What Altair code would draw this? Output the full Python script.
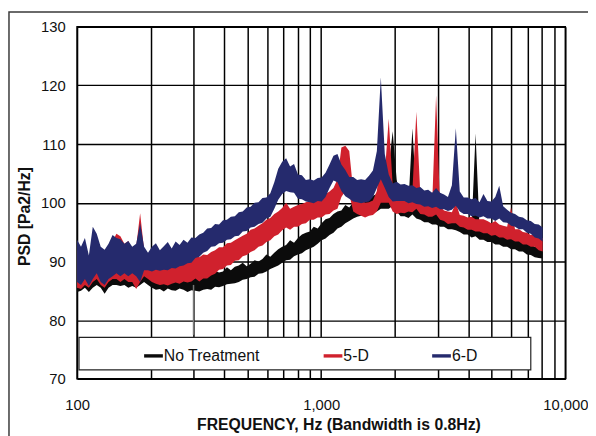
import altair as alt
import pandas as pd

# ---------------- data ----------------
FREQ = [100, 103.8, 107.7, 111.8, 116.0, 120.4, 125.0, 129.7, 134.6, 139.8,
        145.0, 150.5, 156.3, 162.2, 168.3, 174.7, 181.3, 188.2, 195.3, 202.7,
        210.4, 218.4, 226.7, 235.3, 244.2, 253.4, 263.0, 273.0, 283.4, 294.1,
        305.3, 316.8, 328.8, 341.3, 354.3, 367.7, 381.6, 396.1, 411.1, 426.7,
        442.9, 459.7, 477.1, 495.2, 514.0, 533.5, 553.7, 574.7, 596.5, 619.1,
        642.6, 667.0, 692.3, 718.5, 745.8, 774.0, 803.4, 833.9, 865.5, 898.3,
        932.4, 967.7, 1004, 1042, 1082, 1123, 1166, 1210, 1256, 1303,
        1353, 1404, 1457, 1513, 1570, 1629, 1691, 1755, 1822, 1891,
        1963, 2037, 2115, 2195, 2278, 2364, 2454, 2547, 2644, 2744,
        2848, 2956, 3068, 3185, 3305, 3431, 3561, 3696, 3836, 3982,
        4133, 4289, 4452, 4621, 4796, 4978, 5166, 5362, 5566, 5777,
        5996, 6223, 6459, 6704, 6958, 7222, 7496, 7780, 8075]

SERIES = ["No Treatment", "5-D", "6-D"]
COLORS = ["#0b0b0b", "#d0212d", "#252a6d"]

BLACK_HI = [90.0, 89.0, 91.0, 88.0, 91.0, 90.0, 89.0, 88.0, 89.5, 90.5,
            91.0, 90.5, 90.0, 90.5, 89.5, 90.0, 92.0, 89.5, 88.5, 88.0,
            88.1, 87.6, 87.9, 87.2, 87.4, 87.8, 87.3, 87.5, 87.9, 87.2,
            87.6, 87.4, 88.0, 87.5, 87.9, 88.4, 88.1, 88.3, 89.0, 88.5,
            89.1, 89.3, 89.8, 89.2, 89.6, 90.2, 90.0, 90.4, 91.2, 90.8,
            91.5, 92.1, 92.5, 92.8, 93.6, 93.2, 94.0, 94.6, 94.9, 95.1,
            95.9, 95.6, 96.5, 97.2, 97.4, 98.1, 98.5, 98.7, 99.6, 99.2,
            100.1, 100.4, 100.5, 100.9, 100.7, 101.2, 101.5, 104.0, 103.0, 106.0,
            112.2, 104.0, 100.0, 99.5, 100.0, 112.7, 101.0, 99.0, 98.5, 98.3,
            98.0, 98.6, 97.9, 97.4, 97.3, 97.0, 97.5, 96.8, 96.3, 96.4,
            95.9, 111.8, 95.8, 95.4, 95.3, 95.0, 94.9, 94.6, 94.6, 94.1,
            94.0, 93.7, 93.6, 93.2, 93.3, 92.9, 92.5, 92.4, 92.0]
BLACK_LO = [84.8, 85.0, 85.5, 84.8, 85.5, 86.0, 85.5, 84.5, 85.5, 86.0,
            86.0, 85.8, 86.0, 85.5, 85.8, 85.5, 86.0, 86.5, 86.0, 85.5,
            85.2, 85.3, 84.9, 85.4, 85.1, 85.0, 85.4, 85.2, 84.8, 85.1,
            85.0, 84.9, 85.2, 85.3, 85.2, 85.7, 85.6, 85.8, 86.1, 86.2,
            86.3, 86.5, 86.9, 87.0, 87.3, 87.4, 87.9, 88.0, 88.3, 88.7,
            89.0, 89.3, 89.8, 90.2, 90.3, 90.9, 91.2, 91.4, 91.9, 92.2,
            92.5, 93.0, 93.6, 93.9, 94.5, 94.9, 95.6, 95.9, 96.5, 96.9,
            97.3, 97.6, 97.8, 98.1, 98.1, 98.5, 98.5, 99.0, 99.0, 99.0,
            99.5, 98.5, 97.7, 97.7, 97.4, 98.0, 97.3, 97.1, 96.7, 96.7,
            96.3, 96.3, 95.9, 95.9, 95.5, 95.5, 95.3, 95.0, 94.6, 94.6,
            94.1, 94.3, 93.7, 93.7, 93.3, 93.3, 92.9, 92.9, 92.5, 92.5,
            92.1, 92.1, 91.7, 91.7, 91.2, 91.1, 90.7, 90.6, 90.5]

RED_HI = [92.0, 91.0, 93.0, 90.0, 94.0, 93.0, 91.5, 91.0, 92.0, 93.5,
          94.7, 94.3, 93.0, 93.5, 92.0, 92.5, 98.2, 92.0, 91.0, 91.0,
          90.5, 90.0, 89.5, 89.7, 89.4, 89.9, 90.1, 90.4, 90.2, 90.6,
          91.0, 90.7, 91.2, 91.1, 91.6, 91.9, 92.4, 92.4, 93.1, 93.2,
          93.6, 94.0, 94.4, 94.7, 95.4, 95.6, 96.1, 96.5, 97.1, 97.4,
          98.1, 98.5, 99.1, 100.0, 99.0, 99.3, 99.6, 99.8, 100.1, 100.3,
          100.5, 100.7, 101.0, 101.5, 101.9, 102.5, 104.0, 109.4, 109.7, 108.8,
          102.0, 100.9, 100.6, 100.0, 100.1, 100.4, 102.0, 108.0, 105.0, 114.3,
          103.0, 101.0, 100.3, 100.8, 100.8, 102.0, 115.5, 101.5, 100.1, 99.9,
          99.7, 118.3, 99.4, 98.7, 98.5, 98.4, 100.0, 97.9, 97.8, 97.5,
          97.6, 97.2, 97.2, 97.2, 96.9, 96.5, 96.9, 96.3, 96.1, 95.9,
          99.2, 95.5, 95.5, 95.0, 94.9, 94.5, 94.7, 94.1, 94.0]
RED_LO = [85.5, 85.3, 86.0, 85.5, 86.5, 87.0, 86.0, 85.5, 86.5, 87.0,
          87.0, 86.5, 87.0, 86.5, 86.5, 85.3, 86.5, 87.5, 87.0, 86.5,
          86.2, 86.0, 86.1, 85.9, 86.2, 86.4, 86.2, 86.6, 86.4, 86.6,
          87.1, 86.6, 87.1, 87.1, 87.6, 87.9, 88.6, 88.7, 89.3, 89.4,
          90.1, 90.2, 90.9, 91.1, 91.6, 91.9, 92.5, 92.7, 93.3, 93.6,
          94.3, 94.6, 95.3, 95.8, 95.4, 95.9, 95.9, 96.4, 96.5, 97.1,
          97.1, 97.5, 97.5, 98.0, 98.1, 98.7, 99.0, 101.0, 102.0, 101.5,
          98.5, 98.1, 97.8, 97.5, 97.8, 97.9, 98.5, 100.0, 100.0, 100.0,
          98.5, 98.1, 98.3, 98.2, 98.5, 98.4, 99.0, 98.1, 98.0, 97.6,
          97.6, 98.0, 97.1, 96.9, 96.4, 96.5, 96.5, 95.9, 95.8, 95.4,
          95.4, 95.1, 95.1, 94.8, 94.8, 94.4, 94.5, 94.1, 94.1, 93.7,
          93.8, 93.4, 93.4, 92.9, 92.9, 92.5, 92.5, 91.9, 91.7]

BLUE_HI = [93.7, 92.5, 94.0, 91.0, 95.9, 94.7, 92.5, 92.0, 93.0, 94.5,
           94.0, 93.8, 93.0, 93.5, 92.5, 93.0, 96.5, 92.5, 91.5, 92.5,
           93.1, 91.9, 92.6, 93.3, 92.2, 93.4, 92.8, 93.7, 93.2, 94.1,
           94.0, 94.6, 94.9, 95.6, 95.7, 96.4, 96.3, 97.0, 97.1, 97.6,
           97.7, 98.4, 98.5, 99.2, 99.3, 100.0, 100.1, 100.8, 100.9, 101.6,
           103.5, 105.8, 107.0, 107.6, 106.2, 106.6, 104.8, 104.7, 103.9, 104.0,
           103.8, 104.2, 104.3, 105.1, 106.5, 108.0, 108.3, 106.5, 105.6, 104.4,
           104.4, 103.9, 104.0, 103.9, 104.6, 105.5, 108.8, 121.4, 108.3, 104.8,
           103.3, 103.6, 103.1, 103.2, 102.9, 103.0, 102.5, 102.7, 102.1, 102.2,
           101.7, 102.5, 101.7, 101.4, 101.0, 103.0, 112.7, 101.9, 100.9, 100.9,
           100.6, 100.8, 100.1, 101.5, 100.3, 100.2, 101.0, 102.9, 99.4, 98.8,
           98.3, 98.1, 97.6, 97.5, 97.0, 96.9, 96.4, 96.3, 95.8]
BLUE_LO = [86.5, 86.0, 87.0, 85.8, 87.0, 88.0, 86.5, 86.0, 87.0, 87.5,
           88.0, 87.5, 88.0, 87.5, 88.0, 87.5, 86.5, 88.5, 88.5, 88.3,
           88.6, 88.4, 88.6, 88.5, 88.9, 88.8, 89.2, 89.3, 89.7, 89.8,
           90.6, 90.8, 91.5, 91.8, 92.5, 92.6, 93.1, 93.2, 93.7, 93.8,
           94.3, 94.4, 95.1, 95.2, 95.8, 95.9, 96.4, 96.6, 97.3, 97.6,
           99.0, 100.5, 101.5, 102.0, 101.8, 101.7, 100.7, 100.6, 100.2, 100.1,
           99.9, 100.3, 100.2, 101.0, 102.5, 103.8, 103.5, 102.0, 101.1, 100.7,
           100.2, 100.1, 99.9, 100.1, 100.2, 101.0, 102.5, 104.0, 102.5, 101.0,
           100.2, 100.3, 100.3, 100.3, 99.9, 100.1, 99.8, 99.7, 99.3, 99.4,
           99.1, 99.3, 98.9, 98.9, 98.6, 98.8, 99.5, 98.5, 98.1, 98.1,
           97.7, 97.8, 97.5, 97.7, 97.3, 97.3, 96.9, 97.3, 96.7, 96.6,
           96.1, 95.9, 95.5, 95.5, 94.9, 94.7, 94.1, 93.9, 93.4]

# single downward spike of the untreated curve at 300 Hz
DIP_F = [300]
DIP_LO = [77.5]
DIP_HI = [86.0]

Y_TICKS = [70, 80, 90, 100, 110, 120, 130]
X_GRID = [100, 200, 300, 400, 500, 600, 700, 800, 900,
          1000, 2000, 3000, 4000, 5000, 6000, 7000, 8000, 9000, 10000]
X_LABELS = [100, 1000, 10000]

# ---------------- build table ----------------
rows = []
for name, lo, hi in [(SERIES[0], BLACK_LO, BLACK_HI),
                     (SERIES[1], RED_LO, RED_HI),
                     (SERIES[2], BLUE_LO, BLUE_HI)]:
    assert len(lo) == len(FREQ) and len(hi) == len(FREQ)
    for f, l, h in zip(FREQ, lo, hi):
        rows.append({"f": f, "lo": l, "hi": h, "series": name})
df = pd.DataFrame(rows)
dip = pd.DataFrame({"f": DIP_F, "lo": DIP_LO, "hi": DIP_HI})
one = pd.DataFrame({"k": [0]})

FONT = "Arial, Liberation Sans, sans-serif"

xscale = alt.Scale(type="log", domain=[100, 10000], nice=False)
yscale = alt.Scale(domain=[70, 130], nice=False, zero=False)

label_expr = ("indexof(" + str(X_LABELS) + ", datum.value) >= 0 ? "
              "format(datum.value, ',') : ''")

xaxis = alt.Axis(values=X_GRID, grid=True, gridColor="#000000", gridWidth=1.5,
                 ticks=False, domain=False, labelExpr=label_expr,
                 labelOverlap=False, labelFlush=False, labelBound=False,
                 labelFontSize=15, labelFont=FONT, labelColor="#111111",
                 labelPadding=19,
                 title="FREQUENCY, Hz (Bandwidth is 0.8Hz)",
                 titleFont=FONT, titleFontSize=16, titleFontWeight="bold",
                 titleColor="#111111", titleX=265, titleY=51,
                 titleAlign="center", titleBaseline="alphabetic")
yaxis = alt.Axis(values=Y_TICKS, grid=True, gridColor="#000000", gridWidth=1.5,
                 ticks=False, domain=False, labelFontSize=15, labelFont=FONT,
                 labelColor="#111111", labelPadding=12,
                 title="PSD [Pa2/Hz]", titleFont=FONT, titleFontSize=16,
                 titleFontWeight="bold", titleColor="#111111",
                 titleX=-53, titleY=192, titleAlign="center",
                 titleBaseline="middle")

border = alt.Chart(one).mark_rect(fill="transparent", stroke="#3a3a3a",
                                  strokeWidth=1.5).encode(
    x=alt.value(-69), x2=alt.value(560), y=alt.value(-15), y2=alt.value(460))

legend_box = alt.Chart(one).mark_rect(fill="white", stroke="#222222",
                                      strokeWidth=1.2).encode(
    x=alt.value(2), x2=alt.value(460), y=alt.value(315), y2=alt.value(348))

areas = alt.Chart(df).mark_area(opacity=1, interpolate="linear").encode(
    x=alt.X("f:Q", scale=xscale, axis=xaxis),
    y=alt.Y("lo:Q", scale=yscale, axis=yaxis),
    y2="hi:Q",
    color=alt.Color("series:N",
                    scale=alt.Scale(domain=SERIES, range=COLORS),
                    legend=alt.Legend(orient="none", legendX=68, legendY=324,
                                      direction="horizontal", title=None,
                                      symbolType="M-1,-0.18H1V0.18H-1Z",
                                      symbolSize=361, symbolStrokeWidth=0,
                                      symbolOpacity=1,
                                      labelFontSize=16, labelFont=FONT,
                                      labelColor="#111111", labelOffset=1,
                                      columnPadding=64, padding=0,
                                      zindex=5)),
)

dip_rule = alt.Chart(dip).mark_rule(color="#777777", strokeWidth=1.5).encode(
    x=alt.X("f:Q", scale=xscale),
    y=alt.Y("lo:Q", scale=yscale),
    y2="hi:Q")

chart = alt.layer(border, areas, dip_rule, legend_box).properties(
    width=495, height=357,
    padding={"left": 70, "top": 16, "right": 23, "bottom": 55},
    autosize=alt.AutoSizeParams(type="none"),
    background="white",
).configure_view(stroke="#000000", strokeWidth=1.5)

chart.save("out.html", embed_options={"renderer": "svg", "actions": False})
